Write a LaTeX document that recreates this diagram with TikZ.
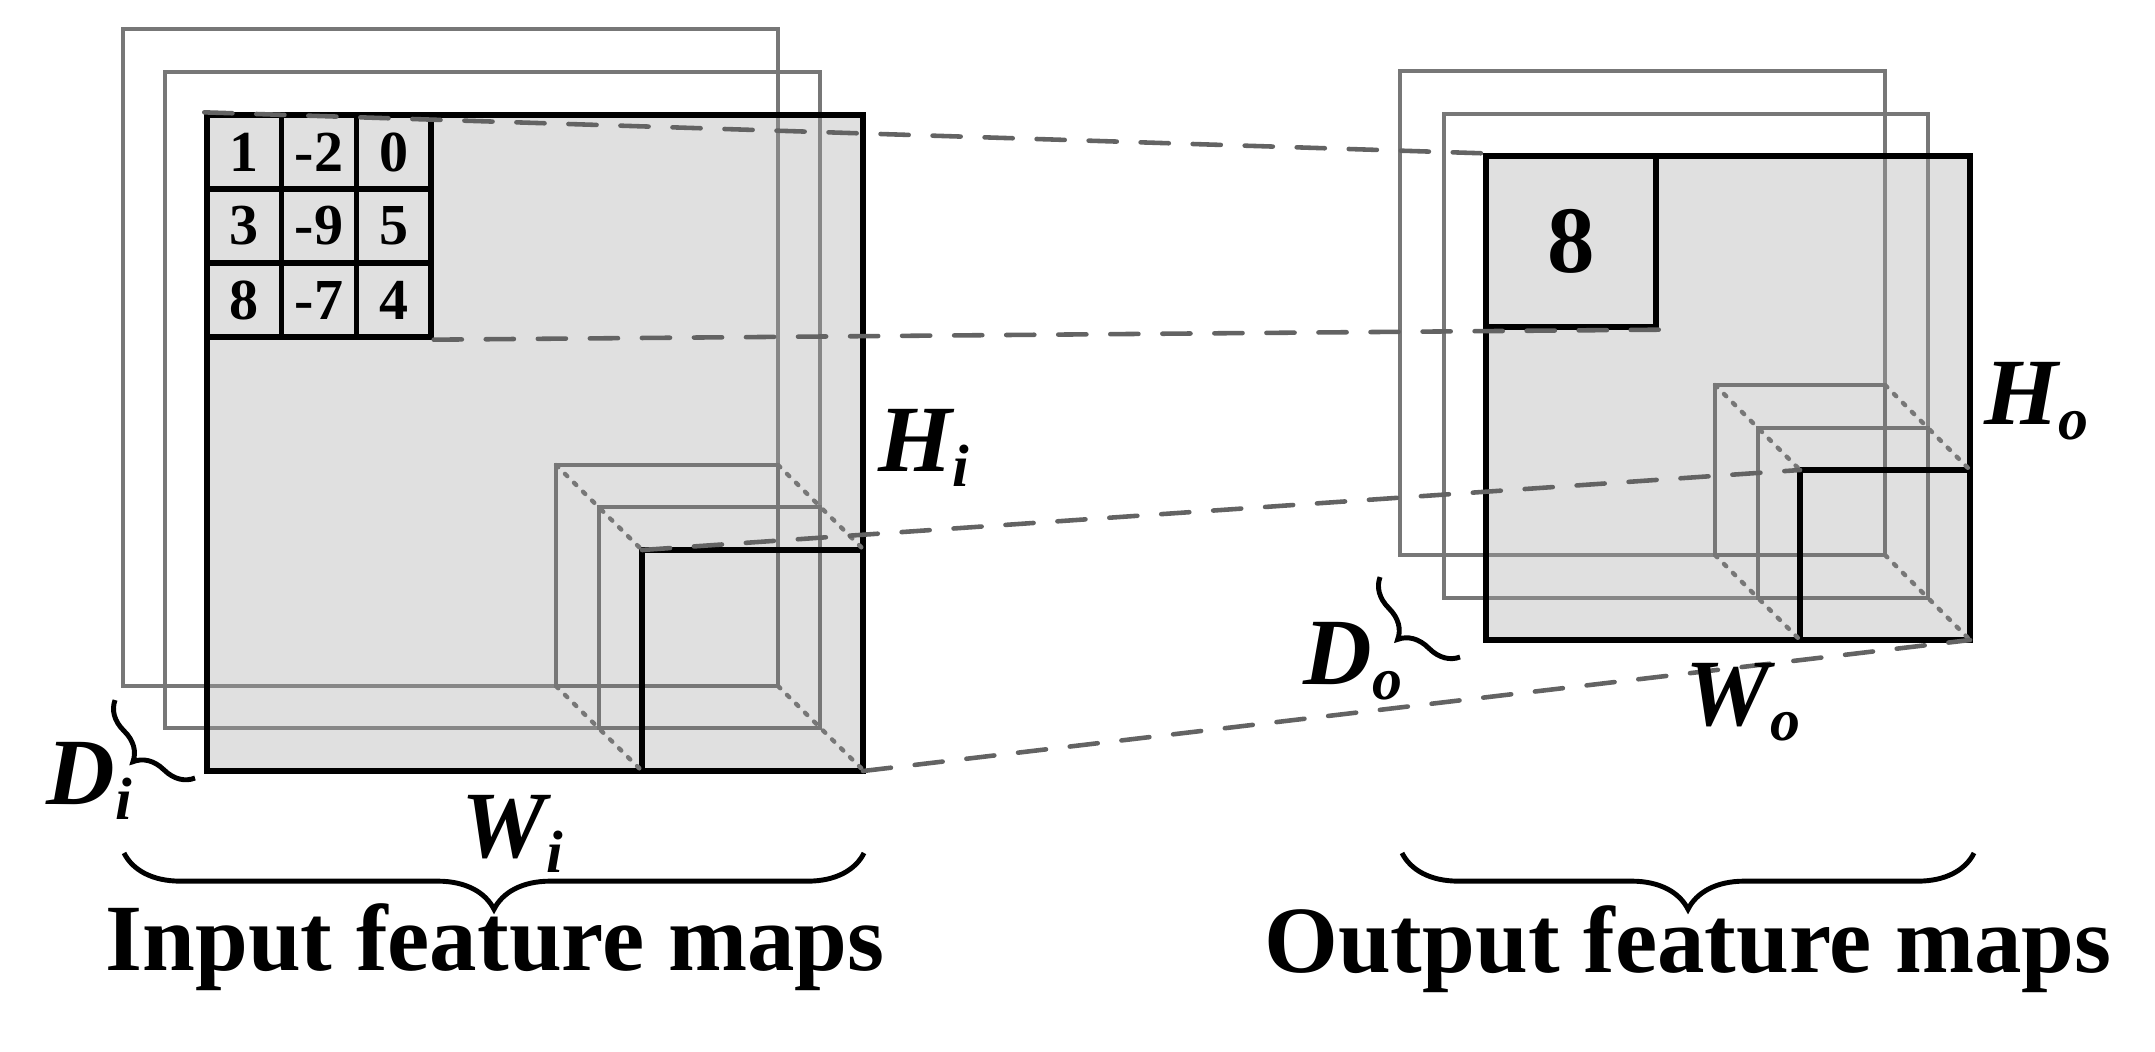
\documentclass[tikz,border=0pt]{standalone}
\usepackage{fontspec}
\setmainfont{Liberation Serif}
\usetikzlibrary{decorations.pathreplacing}

\definecolor{mapfill}{gray}{0.65}
\definecolor{framegray}{HTML}{777777}
\definecolor{dashgray}{HTML}{636363}

\tikzset{
  frameline/.style={draw=framegray, line width=1.35pt},
  edgeline/.style={draw=black, line width=1.5pt},
  guide/.style={dashgray, line width=1.3pt, line cap=round, dash pattern=on 8pt off 6.8pt},
  dotline/.style={framegray, line width=1.25pt, line cap=round, dash pattern=on 0.9pt off 2.7pt},
  dimlab/.style={font=\fontsize{27pt}{27pt}\selectfont\bfseries\itshape, inner sep=0pt, anchor=base west},
  cellbox/.style={draw, line width=1.5pt, inner sep=0pt, minimum width=0.747cm, minimum height=0.74cm,
    font=\fontsize{16.5pt}{16.5pt}\selectfont\bfseries},
  maplabel/.style={font=\fontsize{27pt}{27pt}\selectfont\bfseries, inner sep=0pt, anchor=base},
  bracedeco/.style={decorate, decoration={brace, amplitude=#1}, line width=1.4pt},
}
\newcommand{\dimsub}[2]{#1\raisebox{-0.16em}{\fontsize{17pt}{17pt}\selectfont #2}}

\begin{document}
\begin{tikzpicture}[x=0.01cm,y=-0.01cm]
  \useasboundingbox (0,0) rectangle (2155,1051);
  % input feature maps
  \draw[frameline] (123,29) rectangle (778,686);
  \draw[frameline] (165,72) rectangle (820,728);
  \fill[mapfill, fill opacity=0.35] (207,115) rectangle (863,771);
  \draw[edgeline] (207,115) rectangle (863,771);
  \foreach \col/\row/\v in {0/0/1,1/0/-2,2/0/0,0/1/3,1/1/-9,2/1/5,0/2/8,1/2/-7,2/2/4}
    \node[cellbox] (g\col\row) at ({244.3+74.7*\col},{152+74*\row}) {\v};
  \draw[frameline] (556,465) rectangle (778,686);
  \draw[frameline] (599,507) rectangle (820,728);
  \draw[edgeline] (642,550) rectangle (863,771);
  \coordinate (inwin) at (642,550); \coordinate (incorner) at (863,771);
  \foreach \xa/\ya in {556/465,778/465,556/686,778/686}
    \draw[dotline] (\xa,\ya) -- ++(86,85);

  % output feature maps
  \draw[frameline] (1400,71) rectangle (1885,555);
  \draw[frameline] (1444,114) rectangle (1928,598);
  \fill[mapfill, fill opacity=0.35] (1486,156) rectangle (1970,640);
  \draw[edgeline] (1486,156) rectangle (1970,640);
  \node[cellbox, minimum width=1.7cm, minimum height=1.71cm, font=\fontsize{27pt}{27pt}\selectfont\bfseries]
    (o8) at (1571,241.5) {8};
  \draw[frameline] (1715,385) rectangle (1885,555);
  \draw[frameline] (1758,428) rectangle (1928,598);
  \draw[edgeline] (1800,470) rectangle (1970,640);
  \coordinate (outwin) at (1800,470); \coordinate (outcorner) at (1970,640);
  \foreach \xa/\ya in {1715/385,1885/385,1715/555,1885/555}
    \draw[dotline] (\xa,\ya) -- ++(85,85);

  % projections
  \draw[guide] (g00.north west) -- (o8.north west);
  \draw[guide] (g22.south east) -- (o8.south east);
  \draw[guide] (inwin) -- (outwin);
  \draw[guide] (incorner) -- (outcorner);

  % braces and labels
  \draw[bracedeco=9pt] (195,778) -- (115,700);
  \draw[bracedeco=9pt] (1460,657) -- (1380,577);
  \draw[bracedeco=16pt] (864,853) -- (124,853);
  \draw[bracedeco=16pt] (1974,853) -- (1402,853);
  \node[dimlab] (hi) at (878,471) {\dimsub{H}{i}};
  \node[dimlab] (wi) at (461,857) {\dimsub{W}{i}};
  \node[dimlab] (di) at (46,804) {\dimsub{D}{i}};
  \node[dimlab] (ho) at (1984,424) {\dimsub{H}{o}};
  \node[dimlab] (wo) at (1685,725) {\dimsub{W}{o}};
  \node[dimlab] (do) at (1303,684) {\dimsub{D}{o}};
  \node[maplabel] (intitle) at (495,970) {Input feature maps};
  \node[maplabel] (outtitle) at (1688,972) {Output feature maps};
\end{tikzpicture}
\end{document}
